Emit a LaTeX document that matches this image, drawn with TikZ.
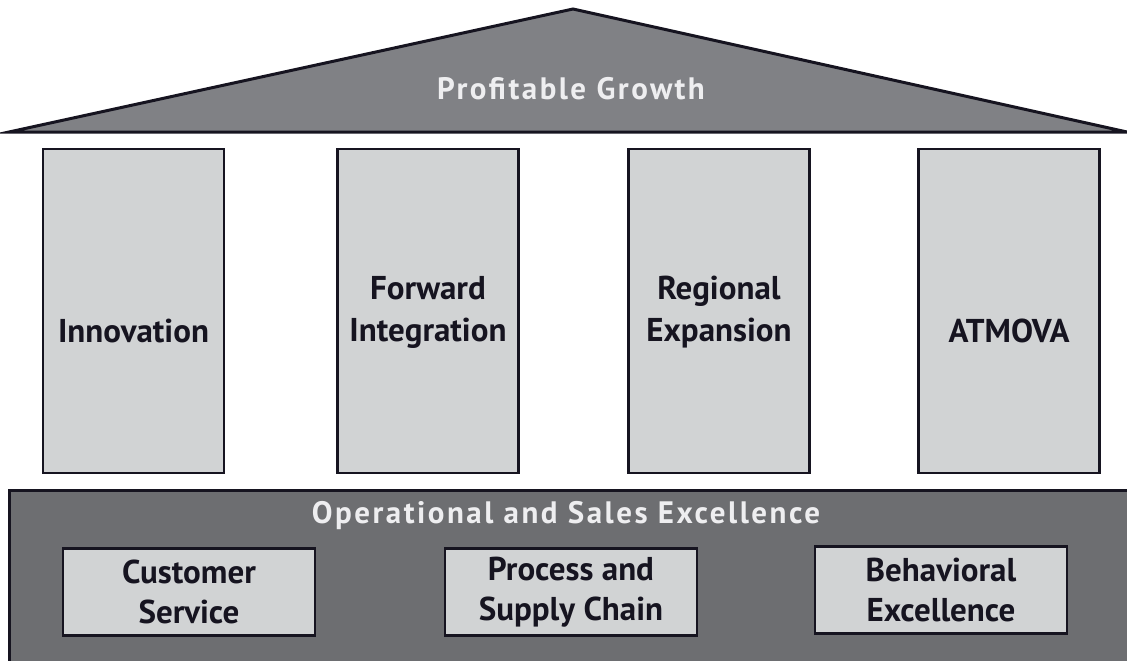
\documentclass[tikz,border=0pt]{standalone}
\usepackage{fontspec}
\setmainfont{PT Sans}
\definecolor{roofgray}{RGB}{128,129,133}
\definecolor{basegray}{RGB}{109,110,113}
\definecolor{boxgray}{RGB}{209,211,212}
\definecolor{edgeblack}{RGB}{22,20,32}
\definecolor{bannerwhite}{RGB}{238,238,240}
\tikzset{
  pillar/.style={draw=edgeblack, line width=2.5pt, fill=boxgray,
    minimum width=181pt, minimum height=324pt, inner sep=0pt},
  plank/.style={draw=edgeblack, line width=2.5pt, fill=boxgray,
    minimum width=252pt, minimum height=87pt, inner sep=0pt, align=center,
    text=edgeblack, font=\bfseries\fontsize{33}{40}\selectfont},
  caption/.style={align=center, inner sep=0pt, text=edgeblack,
    font=\bfseries\fontsize{33}{42}\selectfont},
  banner/.style={inner sep=0pt, text=bannerwhite,
    font=\bfseries\fontsize{31}{32}\selectfont\addfontfeature{LetterSpace=8}}
}
\begin{document}
\begin{tikzpicture}[x=1pt, y=-1pt]
  \useasboundingbox (0,0) rectangle (1127,661);

  % roof
  \draw[edgeblack, line width=3pt, fill=roofgray, line join=miter]
    (9,132) -- (573,9) -- (1127,132) -- cycle;
  \node[banner] (growth) at (571,89) {Profitable Growth};

  % pillars
  \node[pillar] (inno) at (133.5,311) {};
  \node[pillar] (fwd)  at (428,311) {};
  \node[pillar] (reg)  at (719,311) {};
  \node[pillar] (atm)  at (1009,311) {};

  \node[caption] at ([yshift=-20pt]inno.center) {Innovation};
  \node[caption] at ([yshift=-1pt]fwd.center) {Forward\\Integration};
  \node[caption] at ([yshift=-1pt]reg.center) {Regional\\Expansion};
  \node[caption] at ([yshift=-20pt]atm.center) {ATMOVA};

  % foundation
  \draw[edgeblack, line width=3pt, fill=basegray] (9,490) rectangle (1129,664);
  \node[banner] (ops) at (566,516) {Operational and Sales Excellence};

  \node[plank] (cust) at (189,592) {Customer\\Service};
  \node[plank] (proc) at (571,592) {Process and\\Supply Chain};
  \node[plank] (behav) at (941,590) {Behavioral\\Excellence};

\end{tikzpicture}
\end{document}
